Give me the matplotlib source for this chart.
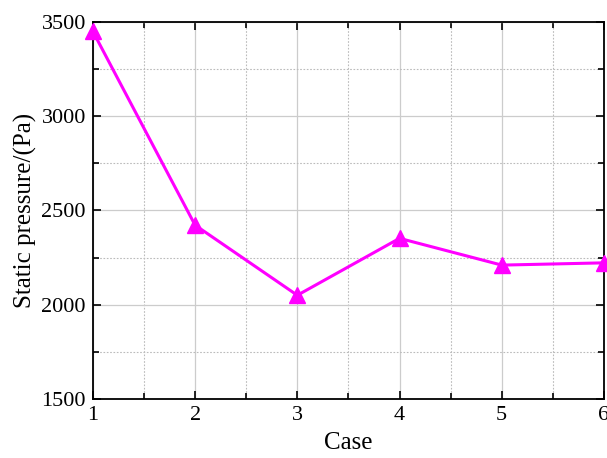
import matplotlib
matplotlib.use("Agg")
import matplotlib.pyplot as plt
from matplotlib.ticker import MultipleLocator

cases = [1, 2, 3, 4, 5, 6]
pressure = [3450, 2422, 2050, 2352, 2210, 2222]

plt.rcParams['font.family'] = ['Liberation Serif', 'DejaVu Serif']
fig = plt.figure(figsize=(6.07, 4.58), dpi=100)
ax = fig.add_axes([0.153, 0.129, 0.842, 0.823])
ax.plot(cases, pressure, color='#ff00ff', lw=2.2, marker='^', markersize=11,
        markeredgecolor='#ff00ff', clip_on=False, zorder=3)
ax.set_xlim(1, 6)
ax.set_ylim(1500, 3500)
ax.xaxis.set_major_locator(MultipleLocator(1))
ax.xaxis.set_minor_locator(MultipleLocator(0.5))
ax.yaxis.set_major_locator(MultipleLocator(500))
ax.yaxis.set_minor_locator(MultipleLocator(250))
ax.grid(which='major', color='#cccccc', lw=0.9, ls='-')
ax.grid(which='minor', color='#bbbbbb', lw=0.8, ls=(0, (1.5, 1.5)))
ax.tick_params(which='both', direction='in', top=True, right=True, labelsize=16, width=1.2)
ax.tick_params(which='major', length=6, pad=5)
ax.tick_params(which='minor', length=4)
for s in ax.spines.values():
    s.set_linewidth(1.3)
ax.set_xlabel('Case', fontsize=18, labelpad=5)
ax.set_ylabel('Static pressure/(Pa)', fontsize=18, labelpad=3)
fig.savefig('out.png', dpi=100)
